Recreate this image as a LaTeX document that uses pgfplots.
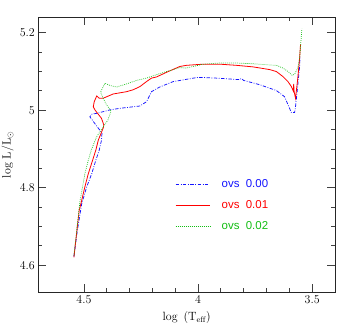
\documentclass[border=0pt]{standalone}
\usepackage{pgfplots}
\pgfplotsset{compat=1.18}
\usepackage{fontspec}
\newfontfamily\legfont{Liberation Sans}
\definecolor{cblue}{RGB}{20,20,255}
\definecolor{cred}{RGB}{255,0,0}
\definecolor{cgreen}{RGB}{20,190,20}
\begin{document}
\begin{tikzpicture}
\path[use as bounding box] (-38.3bp,-34.7bp) rectangle (315.7bp,292.3bp);
\begin{axis}[
  scale only axis, width=296.7bp, height=275bp,
  x dir=reverse,
  xmin=3.4, xmax=4.7, ymin=4.53, ymax=5.24,
  xtick={3.5,4,4.5}, ytick={4.6,4.8,5,5.2},
  minor x tick num=4, minor y tick num=3,
  tick align=inside, major tick length=8bp, minor tick length=4bp,
  axis line style={black!85, line width=0.8pt},
  every tick/.style={black!75, line width=0.8pt},
  tick label style={font=\fontsize{11.5}{13}\selectfont},
  xlabel={log\, (T$_{\rm eff}$)},
  ylabel={log L/L$_\odot$},
  label style={font=\fontsize{12}{14}\selectfont},
  xlabel style={at={(axis description cs:0.5,-0.092)}, anchor=center},
  ylabel style={at={(axis description cs:-0.103,0.5)}, anchor=center},
  legend style={draw=none, fill=none, at={(axis description cs:0.461,0.412)}, anchor=north west,
    font=\legfont\fontsize{11.5}{13}\selectfont, row sep=10.5bp, column sep=11bp, inner sep=0pt,
    nodes={inner sep=0.5pt}},
  legend cell align=left,
  legend image code/.code={\draw[#1, line width=0.9pt] (0bp,0bp) -- (34bp,0bp);},
]
\addplot[cblue, line width=0.75pt, dash pattern=on 3.5pt off 1.5pt on 0.8pt off 1.5pt] coordinates {
(4.544,4.622) (4.529,4.689) (4.510,4.758) (4.488,4.802) (4.466,4.836)
(4.448,4.871) (4.433,4.897) (4.423,4.923) (4.421,4.941) (4.474,4.983)
(4.465,4.990) (4.444,4.992) (4.386,5.001) (4.343,5.005) (4.255,5.011)
(4.226,5.022) (4.204,5.048) (4.168,5.060) (4.109,5.074) (4.000,5.085)
(3.920,5.083) (3.818,5.079) (3.810,5.082) (3.800,5.077) (3.730,5.066) (3.657,5.051)
(3.621,5.035) (3.602,5.009) (3.591,4.994) (3.577,4.994) (3.573,5.009)
(3.565,5.053) (3.555,5.113) (3.553,5.140)
};
\addlegendentry{\textcolor{cblue}{ovs\ \ 0.00}}
\addplot[cred, line width=0.8pt] coordinates {
(4.544,4.620) (4.521,4.741) (4.510,4.767) (4.496,4.802) (4.481,4.836)
(4.462,4.871) (4.448,4.897) (4.437,4.923) (4.415,4.955) (4.413,4.962)
(4.423,4.979) (4.452,5.001) (4.459,5.009) (4.455,5.022) (4.444,5.037)
(4.433,5.031) (4.416,5.031) (4.372,5.042) (4.313,5.048) (4.284,5.053)
(4.255,5.061) (4.226,5.074) (4.204,5.083) (4.182,5.086) (4.138,5.098)
(4.080,5.113) (4.051,5.116) (3.978,5.119) (3.905,5.119) (3.832,5.116)
(3.759,5.112) (3.686,5.105) (3.657,5.100) (3.628,5.087) (3.606,5.074)
(3.591,5.061) (3.583,5.050) (3.581,5.068) (3.579,5.048) (3.573,5.031)
(3.563,5.083) (3.555,5.135) (3.551,5.170)
};
\addlegendentry{\textcolor{cred}{ovs\ \ 0.01}}
\addplot[cgreen, line width=0.7pt, dash pattern=on 0.8pt off 1.2pt] coordinates {
(4.544,4.625) (4.517,4.767) (4.506,4.802) (4.496,4.836) (4.481,4.871)
(4.468,4.897) (4.445,4.931) (4.416,4.957) (4.395,4.975) (4.381,4.998)
(4.401,5.014) (4.416,5.031) (4.427,5.047) (4.408,5.070) (4.386,5.064)
(4.357,5.060) (4.313,5.068) (4.270,5.077) (4.226,5.083) (4.182,5.092)
(4.138,5.100) (4.080,5.110) (4.051,5.109) (3.978,5.119) (3.905,5.122)
(3.832,5.122) (3.759,5.120) (3.686,5.117) (3.657,5.116) (3.628,5.109)
(3.606,5.100) (3.587,5.090) (3.577,5.093) (3.563,5.109) (3.555,5.135)
(3.545,5.210)
};
\addlegendentry{\textcolor{cgreen}{ovs\ \ 0.02}}
\end{axis}
\end{tikzpicture}
\end{document}
